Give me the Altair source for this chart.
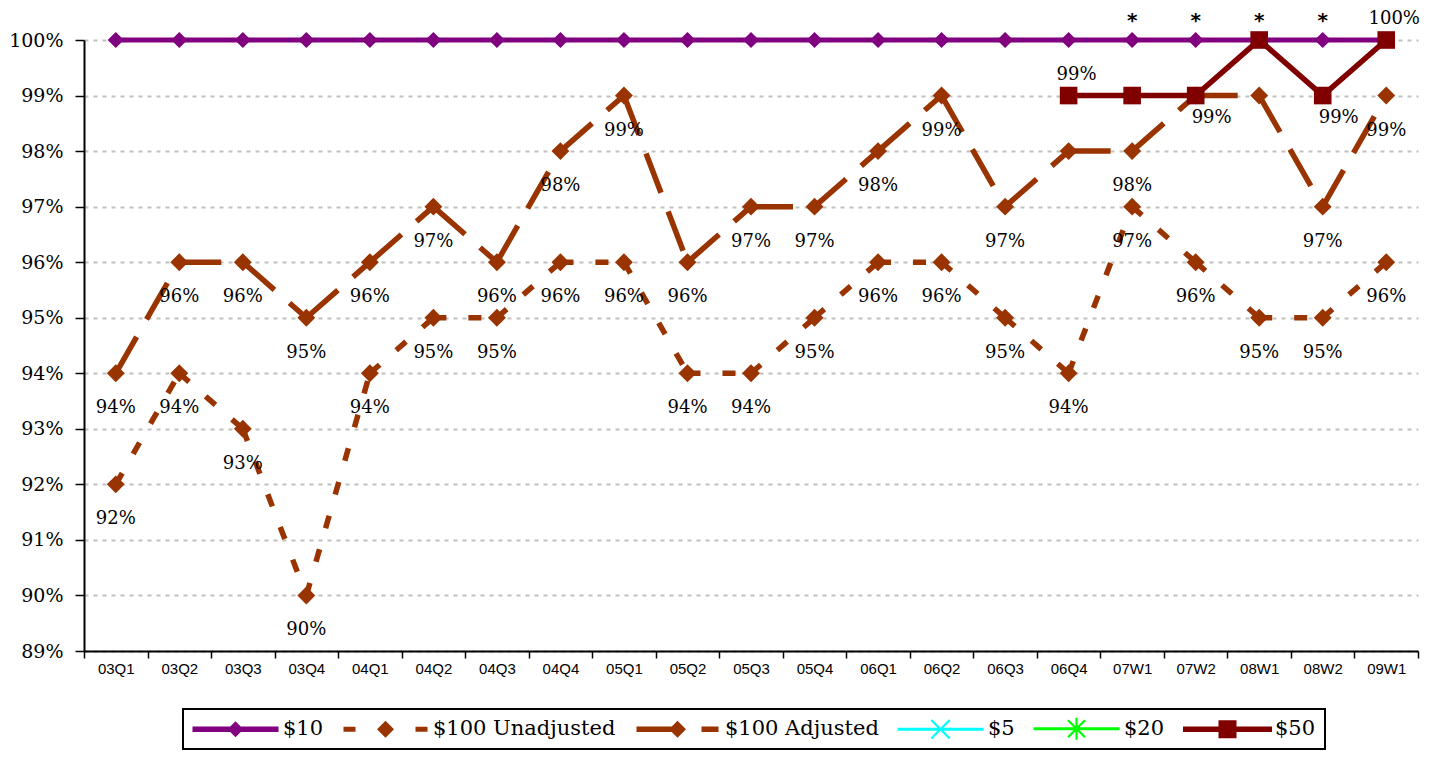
import math
import altair as alt
import pandas as pd

# ---------------- data ----------------
categories = ["03Q1", "03Q2", "03Q3", "03Q4", "04Q1", "04Q2", "04Q3", "04Q4",
              "05Q1", "05Q2", "05Q3", "05Q4", "06Q1", "06Q2", "06Q3", "06Q4",
              "07W1", "07W2", "08W1", "08W2", "09W1"]
values_10 = [100] * 21
values_unadjusted = [92, 94, 93, 90, 94, 95, 95, 96, 96, 94, 94, 95, 96, 96, 95, 94, 97, 96, 95, 95, 96]
values_adjusted = [94, 96, 96, 95, 96, 97, 96, 98, 99, 96, 97, 97, 98, 99, 97, 98, 98, 99, 99, 97, 99]
categories_50 = ["06Q4", "07W1", "07W2", "08W1", "08W2", "09W1"]
values_50 = [99, 99, 99, 100, 99, 100]
asterisk_categories = ["07W1", "07W2", "08W1", "08W2"]
adjusted_unlabeled = ["06Q4", "07W2", "08W1"]
labels_50_above = ["06Q4", "09W1"]
labels_50_below = ["07W2", "08W2"]
series_names = ["$10", "$100 Unadjusted", "$100 Adjusted", "$5", "$20", "$50"]
y_ticks = list(range(89, 101))

PURPLE = "#800080"
RUST = "#993300"
CYAN = "#00FFFF"
GREEN = "#00FF00"
DARKRED = "#800000"
series_colors = [PURPLE, RUST, RUST, CYAN, GREEN, DARKRED]


def frame(name, cats, vals):
    return pd.DataFrame({
        "series": name,
        "category": cats,
        "idx": [categories.index(c) for c in cats],
        "value": vals,
        "label": [f"{v}%" for v in vals],
    })


def segments(name, cats, vals):
    rows = []
    for i in range(len(cats) - 1):
        for j in (i, i + 1):
            rows.append({"series": name, "seg": i, "category": cats[j],
                         "idx": categories.index(cats[j]), "value": vals[j]})
    return pd.DataFrame(rows)


df10 = frame("$10", categories, values_10)
dfun = frame("$100 Unadjusted", categories, values_unadjusted)
dfadj = frame("$100 Adjusted", categories, values_adjusted)
df50 = frame("$50", categories_50, values_50)
seg_un = segments("$100 Unadjusted", categories, values_unadjusted)
seg_adj = segments("$100 Adjusted", categories, values_adjusted)
dflegend = pd.DataFrame({"series": series_names, "category": categories[0], "value": 80})

# ---------------- legend symbol paths (unit = 10px) ----------------
def bar(cx, cy, L, t, ang):
    a = math.radians(ang)
    ux, uy = math.cos(a), math.sin(a)
    nx, ny = -math.sin(a), math.cos(a)
    pts = [(cx - ux * L / 2 - nx * t / 2, cy - uy * L / 2 - ny * t / 2),
           (cx + ux * L / 2 - nx * t / 2, cy + uy * L / 2 - ny * t / 2),
           (cx + ux * L / 2 + nx * t / 2, cy + uy * L / 2 + ny * t / 2),
           (cx - ux * L / 2 + nx * t / 2, cy - uy * L / 2 + ny * t / 2)]
    return "M" + "L".join(f"{x:.3f},{y:.3f}" for x, y in pts) + "Z"


def hrect(x0, x1, t):
    return f"M{x0},{-t/2}H{x1}V{t/2}H{x0}Z"


def diamond(cx, h):
    return f"M{cx},{-h}L{cx+h},0L{cx},{h}L{cx-h},0Z"


path_10 = hrect(-4.3, 4.3, 0.55) + diamond(0, 0.8)
path_un = hrect(-4.2, -3.0, 0.5) + diamond(0, 0.85) + hrect(3.0, 4.2, 0.5)
path_adj = hrect(-4.1, -0.5, 0.55) + diamond(0, 0.85) + hrect(2.4, 4.1, 0.55)
path_5 = hrect(-4.3, 4.3, 0.3) + bar(0, 0, 2.6, 0.22, 45) + bar(0, 0, 2.6, 0.22, -45)
path_20 = (hrect(-4.3, 4.3, 0.3) + bar(0, 0, 2.2, 0.22, 90)
           + bar(0, 0, 2.4, 0.22, 45) + bar(0, 0, 2.4, 0.22, -45))
path_50 = hrect(-4.45, 4.45, 0.55) + "M-0.9,-0.9H0.9V0.9H-0.9Z"
series_paths = [path_10, path_un, path_adj, path_5, path_20, path_50]

# ---------------- encodings ----------------
x_axis = alt.Axis(title=None, tickBand="extent", grid=False, labelAngle=0,
                  labelFont="Liberation Sans", labelFontSize=15, labelColor="black",
                  domainColor="black", domainWidth=2, tickColor="black", tickWidth=1.5,
                  tickSize=7, labelPadding=3)
y_axis = alt.Axis(title=None, values=y_ticks, labelExpr="datum.value + '%'",
                  labelFont="DejaVu Serif", labelFontSize=19, labelColor="black",
                  domainColor="black", domainWidth=2, tickColor="black", tickWidth=1.5,
                  tickSize=9, labelPadding=12, grid=True, gridColor="#c0c0c0",
                  gridDash=[4, 5], gridWidth=2)

X = alt.X("category:N", scale=alt.Scale(type="band", domain=categories,
                                         paddingInner=0, paddingOuter=0),
          bandPosition=0.5, axis=x_axis)
Y = alt.Y("value:Q", scale=alt.Scale(domain=[89, 100], nice=False, zero=False), axis=y_axis)

layers = []

# $10
layers.append(alt.Chart(df10).mark_line(color=PURPLE, strokeWidth=5).encode(x=X, y=Y, order="idx:Q"))
layers.append(alt.Chart(df10).mark_point(shape="diamond", filled=True, color=PURPLE,
                                         size=260, opacity=1).encode(x=X, y=Y))
# $100 Unadjusted
layers.append(alt.Chart(seg_un).mark_line(color=RUST, strokeWidth=5.5, strokeDash=[13, 22],
                                          strokeCap="butt").encode(
    x=X, y=Y, detail="seg:N", order="idx:Q"))
layers.append(alt.Chart(dfun).mark_point(shape="diamond", filled=True, color=RUST,
                                         size=320, opacity=1).encode(x=X, y=Y))
# $100 Adjusted
layers.append(alt.Chart(seg_adj).mark_line(color=RUST, strokeWidth=5.5, strokeDash=[42, 20],
                                           strokeCap="butt").encode(
    x=X, y=Y, detail="seg:N", order="idx:Q"))
layers.append(alt.Chart(dfadj).mark_point(shape="diamond", filled=True, color=RUST,
                                          size=320, opacity=1).encode(x=X, y=Y))
# $50
layers.append(alt.Chart(df50).mark_line(color=DARKRED, strokeWidth=5.5).encode(x=X, y=Y, order="idx:Q"))
layers.append(alt.Chart(df50).mark_point(shape="square", filled=True, color=DARKRED,
                                         size=310, opacity=1).encode(x=X, y=Y))

# data labels
text_kw = dict(font="DejaVu Serif", fontSize=18, color="black", baseline="middle", align="center")
layers.append(alt.Chart(dfun).mark_text(dy=35, **text_kw).encode(x=X, y=Y, text="label:N"))
layers.append(alt.Chart(dfadj[~dfadj["category"].isin(adjusted_unlabeled)])
              .mark_text(dy=35, **text_kw).encode(x=X, y=Y, text="label:N"))
layers.append(alt.Chart(df50[df50["category"].isin(labels_50_above)])
              .mark_text(dy=-21, dx=8, **text_kw).encode(x=X, y=Y, text="label:N"))
layers.append(alt.Chart(df50[df50["category"].isin(labels_50_below)])
              .mark_text(dy=22, dx=16, **text_kw).encode(x=X, y=Y, text="label:N"))
# asterisks
layers.append(alt.Chart(df10[df10["category"].isin(asterisk_categories)])
              .mark_text(dy=-19, text="*", font="DejaVu Sans", fontSize=20, fontWeight="bold",
                         color="black", baseline="middle", align="center")
              .encode(x=X, y=Y))

# legend-only layer (points fall outside the plot and are clipped)
layers.append(alt.Chart(dflegend).mark_point(filled=True, opacity=1, clip=True).encode(
    x=X, y=Y,
    color=alt.Color("series:N", title=None,
                    scale=alt.Scale(domain=series_names, range=series_colors)),
    shape=alt.Shape("series:N", title=None,
                    scale=alt.Scale(domain=series_names, range=series_paths)),
))

chart = alt.layer(*layers).properties(
    width=1334, height=611,
    autosize=alt.AutoSizeParams(type="none"),
    padding={"left": 76, "top": 32, "right": 14, "bottom": 104},
    background="white",
).configure_view(stroke=None).configure_legend(
    orient="none", legendX=99, legendY=669, direction="horizontal", columns=6,
    symbolSize=400, symbolOffset=33, labelOffset=37, symbolStrokeWidth=0,
    labelFont="DejaVu Serif", labelFontSize=21, labelColor="black", labelLimit=400,
    columnPadding=18, padding=9, strokeColor="black", strokeWidth=2, fillColor="white",
)

chart.save("out.html", embed_options={"renderer": "svg", "actions": False})
